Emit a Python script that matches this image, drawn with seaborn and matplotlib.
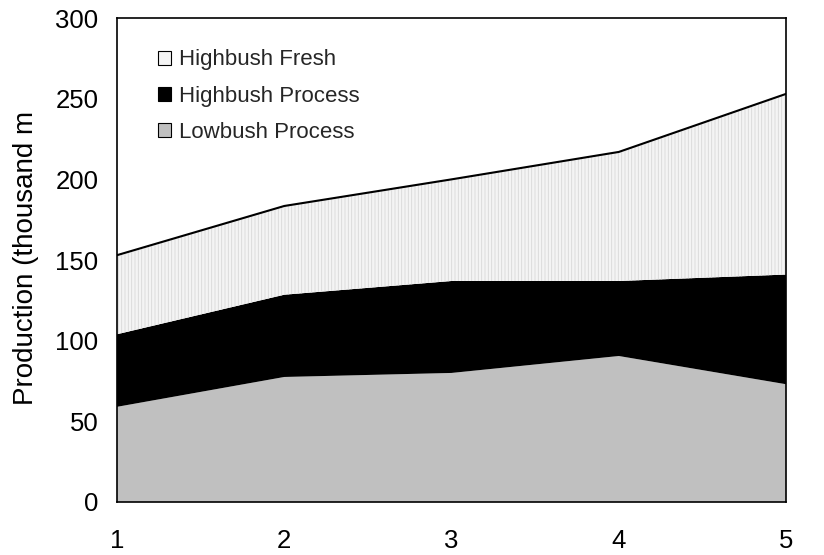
import matplotlib
matplotlib.use("Agg")
import matplotlib.pyplot as plt
from matplotlib.patches import Patch
import seaborn as sns
import numpy as np
import pandas as pd

years = [1, 2, 3, 4, 5]
lowbush_process = [59, 77.5, 80, 90.5, 73]
highbush_process = [45, 51, 57, 46.5, 68]
highbush_fresh = [49, 55, 63, 80, 112]
series_names = ["Highbush Fresh", "Highbush Process", "Lowbush Process"]
y_ticks = [0, 50, 100, 150, 200, 250, 300]

sns.set_style("white")
plt.rcParams['font.family'] = ['Liberation Sans', 'DejaVu Sans']
plt.rcParams['hatch.color'] = '#d8d8d8'
plt.rcParams['hatch.linewidth'] = 0.6

fig = plt.figure(figsize=(8.24, 5.55), dpi=100)
ax = fig.add_axes([0.142, 0.0955, 0.812, 0.872])

low = np.array(lowbush_process)
mid = low + np.array(highbush_process)
top = mid + np.array(highbush_fresh)

ax.fill_between(years, 0, low, facecolor='#c0c0c0', edgecolor='none', linewidth=0)
ax.fill_between(years, low, mid, facecolor='#000000', edgecolor='none', linewidth=0)
ax.fill_between(years, mid, top, facecolor='#f4f4f4', edgecolor='#d8d8d8', hatch='|||||', linewidth=0)

df = pd.DataFrame({"x": years, "total": top})
sns.lineplot(data=df, x="x", y="total", ax=ax, color='black', linewidth=1.5)

ax.set_xlim(1, 5)
ax.set_ylim(0, 300)
ax.set_xticks(years)
ax.set_yticks(y_ticks)
ax.tick_params(axis='both', direction='out', length=6.5, width=1, labelsize=18.5,
               color='black', labelcolor='black')
ax.tick_params(axis='y', pad=7)
ax.tick_params(axis='x', pad=13)
for s in ax.spines.values():
    s.set_visible(True)
    s.set_color('black')
    s.set_linewidth(1.2)
ax.set_xlabel("")
ax.set_ylabel("Production (thousand m", fontsize=20, color='black')
ax.yaxis.set_label_coords(-0.117, 0.505)

handles = [
    Patch(facecolor='#f4f4f4', edgecolor='black', linewidth=0.8, label=series_names[0]),
    Patch(facecolor='black', edgecolor='black', linewidth=0.8, label=series_names[1]),
    Patch(facecolor='#c0c0c0', edgecolor='black', linewidth=0.8, label=series_names[2]),
]
ax.legend(handles=handles, loc='upper left', bbox_to_anchor=(0.0613, 0.935), frameon=False,
          borderaxespad=0, borderpad=0,
          fontsize=16, handlelength=0.6, handleheight=0.6, handletextpad=0.33, labelspacing=0.68)

fig.savefig("out.png", dpi=100)
